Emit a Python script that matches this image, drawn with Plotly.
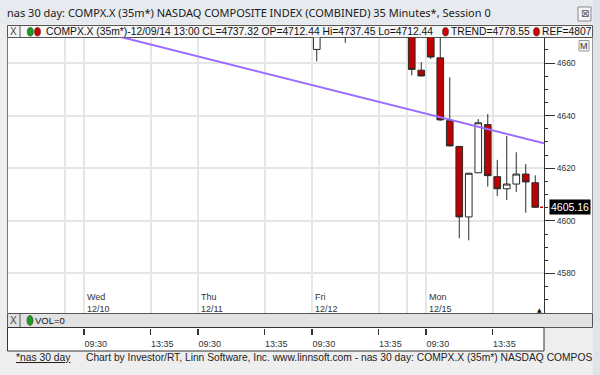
import plotly.graph_objects as go

# ---------------- data ----------------
days = ["12/09", "12/10", "12/11", "12/12", "12/15"]
day_names = ["Tue", "Wed", "Thu", "Fri", "Mon"]
session_times = ["09:30", "10:05", "10:40", "11:15", "11:50", "12:25",
                 "13:00", "13:35", "14:10", "14:45", "15:20", "15:55"]

bar_time = ["12/12 09:30", "12/12 11:15", "12/12 15:20", "12/12 15:55",
            "12/15 09:30", "12/15 10:05", "12/15 10:40", "12/15 11:15",
            "12/15 11:50", "12/15 12:25", "12/15 13:00", "12/15 13:35",
            "12/15 14:10", "12/15 14:45", "12/15 15:20", "12/15 15:55"]
bar_open = [4665.2, 4681.0, 4672.0, 4657.3, 4674.5, 4662.0, 4638.1, 4628.3,
            4601.5, 4618.3, 4636.6, 4616.8, 4612.2, 4614.0, 4617.8, 4614.5]
bar_high = [4683.0, 4686.0, 4675.0, 4660.3, 4676.0, 4673.0, 4654.6, 4628.5,
            4618.3, 4638.7, 4640.6, 4623.2, 4632.3, 4626.1, 4621.6, 4617.3]
bar_low = [4660.7, 4667.7, 4655.3, 4655.0, 4661.6, 4638.0, 4628.3, 4593.4,
           4592.6, 4618.1, 4613.0, 4609.4, 4607.9, 4611.0, 4603.1, 4605.0]
bar_close = [4679.5, 4676.0, 4657.6, 4655.1, 4662.3, 4638.4, 4628.5, 4601.5,
             4618.1, 4637.3, 4617.2, 4612.2, 4614.0, 4617.8, 4614.8, 4605.16]

# purple trend line (bar index, price)
trend_x = [-8.5, 47.92]
trend_y = [4680.7, 4629.5]

grid_times = ["12/09 15:20", "12/10 09:30", "12/10 13:35", "12/11 09:30",
              "12/11 13:35", "12/12 09:30", "12/12 13:35", "12/12 15:20",
              "12/15 09:30", "12/15 13:35"]
axis_tick_times = ["09:30", "13:35"]

y_range = [4565.15, 4669.73]
x_range = [-8.5, 47.92]

legend_text = "COMPX.X (35m*)-12/09/14 13:00 CL=4737.32 OP=4712.44 Hi=4737.45 Lo=4712.44"
title_text = "nas 30 day: COMPX.X (35m*) NASDAQ COMPOSITE INDEX (COMBINED) 35 Minutes*, Session 0"
footer_text = "Chart by Investor/RT, Linn Software, Inc. www.linnsoft.com - nas 30 day: COMPX.X (35m*) NASDAQ COMPOS"


def bar_index(stamp):
    d, t = stamp.split()
    return (days.index(d) - 1) * 12 + session_times.index(t)


xs = [bar_index(s) for s in bar_time]

# ---------------- layout helpers ----------------
W, H = 600, 375
def X(px): return px / W
def Y(py): return 1 - py / H

FONT = "Liberation Sans"
DARK = "#333333"

fig = go.Figure()
fig.add_trace(go.Candlestick(
    x=xs, open=bar_open, high=bar_high, low=bar_low, close=bar_close,
    increasing=dict(fillcolor="white", line=dict(color="#2a2a2a", width=1)),
    decreasing=dict(fillcolor="#c00000", line=dict(color="#2a2a2a", width=1)),
    showlegend=False, hoverinfo="skip", xaxis="x", yaxis="y"))

fig.add_trace(go.Scatter(x=trend_x, y=trend_y, mode="lines",
                         line=dict(color="#9b6cff", width=2),
                         showlegend=False, hoverinfo="skip", xaxis="x", yaxis="y"))

# last price marker
last = bar_close[-1]
fig.add_trace(go.Scatter(x=[x_range[1] + 0.45], y=[last], mode="markers",
                         marker=dict(symbol="triangle-left", color="#d00000", size=7),
                         cliponaxis=False, showlegend=False, hoverinfo="skip",
                         xaxis="x", yaxis="y"))

# grid / labels for price pane x axis
grid_vals = [bar_index(s) - 0.5 for s in grid_times]
day_vals, day_text = [], []
for s in grid_times:
    d, t = s.split()
    if t == "09:30":
        day_vals.append(bar_index(s) - 0.5)
        day_text.append(day_names[days.index(d)] + "<br>" + d)

time_vals, time_text = [], []
for d in days[1:]:
    for t in axis_tick_times:
        time_vals.append(bar_index(d + " " + t) - 0.5)
        time_text.append(t)

shapes = []
def rect(x0, y0, x1, y1, fill, line=None, lw=1, layer="below"):
    shapes.append(dict(type="rect", xref="paper", yref="paper",
                       x0=X(x0), x1=X(x1), y0=Y(y1), y1=Y(y0),
                       fillcolor=fill, line=dict(color=line or "rgba(0,0,0,0)", width=lw if line else 0),
                       layer=layer))
def vline(x, y0, y1, color, lw=1, layer="below"):
    shapes.append(dict(type="line", xref="paper", yref="paper", x0=X(x), x1=X(x),
                       y0=Y(y0), y1=Y(y1), line=dict(color=color, width=lw), layer=layer))
def oval(x0, y0, x1, y1, fill, layer="above"):
    shapes.append(dict(type="circle", xref="paper", yref="paper", x0=X(x0), x1=X(x1),
                       y0=Y(y1), y1=Y(y0), fillcolor=fill, line=dict(color="#333", width=0.6),
                       layer=layer))

# title bar
rect(0, 0, 600, 24, "#e7eaee")
# right border strip
rect(593, 0, 600, 375, "#dfe4ea")
# price pane white incl. axis region
rect(8, 37.5, 592, 313, "white")
# legend bar
rect(7.5, 25.5, 592.5, 37.5, "#f6f6f6", "#555555")
vline(20, 25.5, 37.5, "#555555")
# vol bar
rect(7.5, 313.5, 592.5, 327.5, "#e2e2e2", "#555555")
vline(20, 313.5, 327.5, "#555555")
# volume pane
rect(7.5, 327.5, 544, 351, "white", "#333333")
# frame sides of price pane
vline(7.5, 37.5, 313.5, "#777777")
vline(592.5, 37.5, 313.5, "#999999")
# close button
rect(578, 7, 591, 21, "#f4f4f4", "#8a8a8a")
# "M" button
rect(579, 40.5, 589, 51, "#f4f4f4", "#9a9a9a", layer="above")
# legend dots
oval(27.3, 27.5, 33.3, 36, "#1e9e1e")
oval(34.5, 27.5, 40.5, 36, "#d00000")
oval(442.5, 27.5, 448.5, 36, "#d00000")
oval(533.5, 27.5, 539.5, 36, "#d00000")
oval(27, 315.5, 33, 325.5, "#1e9e1e")
# red dashed stub of last price
shapes.append(dict(type="line", xref="paper", yref="y", x0=X(540), x1=X(546),
                   y0=last, y1=last, line=dict(color="#d00000", width=1.5, dash="dot"),
                   layer="above"))

annotations = []
def text(x, y, s, size=10, color=DARK, family=FONT, anchor="left", **kw):
    annotations.append(dict(x=X(x), y=Y(y), xref="paper", yref="paper", text=s,
                            showarrow=False, xanchor=anchor, yanchor="middle",
                            font=dict(size=size, color=color, family=family), **kw))

text(5, 12.5, title_text, size=11, color="#1a1a1a", family="Noto Sans")
text(584.5, 14, "⊠", size=10, color="#555", family="DejaVu Sans", anchor="center")
text(13.8, 31.5, "X", size=10, color="#444", anchor="center")
text(44, 31.5, legend_text, size=10.3, color="#111")
text(449, 31.5, "TREND=4778.55", size=10.3, color="#111")
text(540, 31.5, "REF=4807", size=10.3, color="#111")
text(584, 45.8, "M", size=9, color="#333", anchor="center")
text(13.8, 320.5, "X", size=10, color="#444", anchor="center")
text(33, 320.5, "VOL=0", size=9.5, color="#111")
text(14, 357.5, "<u>*nas 30 day</u>", size=10.3, color="#222")
text(84, 357.5, footer_text, size=10.25, color="#222")
text(539.5, 309.5, "▲", size=6, color="#111", family="DejaVu Sans", anchor="center")
for v, s in zip(day_vals, day_text):
    annotations.append(dict(x=v, y=Y(303), xref="x", yref="paper", text=s,
                            showarrow=False, xanchor="left", yanchor="middle", align="left",
                            xshift=1, font=dict(size=9, color=DARK, family=FONT)))
annotations.append(dict(x=X(570), y=last, xref="paper", yref="y", text="4605.16",
                        showarrow=False, xanchor="center", yanchor="middle",
                        bgcolor="black", borderpad=1,
                        font=dict(size=10.5, color="white", family=FONT)))

fig.update_layout(
    width=W, height=H, autosize=False,
    margin=dict(l=0, r=0, t=0, b=0),
    paper_bgcolor="#eeeeee", plot_bgcolor="rgba(0,0,0,0)",
    boxgap=0.3, boxgroupgap=0,
    shapes=shapes, annotations=annotations,
    showlegend=False,
    xaxis=dict(domain=[X(8), X(544)], range=x_range, anchor="y",
               tickvals=grid_vals, showticklabels=False, ticks="",
               showgrid=True, gridcolor="#e6e6e6", gridwidth=2,
               zeroline=False, showline=False,
               rangeslider=dict(visible=False), fixedrange=True),
    yaxis=dict(domain=[Y(312.5), Y(37.5)], range=y_range, anchor="x", side="right",
               dtick=20, tick0=4560, ticks="outside", ticklen=10, tickwidth=1,
               tickcolor=DARK, tickfont=dict(size=8.5, color=DARK, family=FONT),
               showline=True, linecolor=DARK, linewidth=1,
               showgrid=True, gridcolor="#e6e6e6", gridwidth=2, zeroline=False,
               minor=dict(dtick=5, tick0=4560, ticks="outside", ticklen=3,
                          tickcolor=DARK, showgrid=False)),
    xaxis2=dict(domain=[X(8), X(544)], range=x_range, anchor="free", position=Y(327.5),
                side="bottom", tickvals=time_vals, ticktext=time_text,
                ticks="outside", ticklen=6, tickcolor=DARK, tickwidth=1.2,
                ticklabelposition="outside right", ticklabelstandoff=8,
                tickfont=dict(size=9, color=DARK, family=FONT),
                showgrid=False, zeroline=False, showline=False),
    yaxis2=dict(domain=[Y(351), Y(327.5)], range=[0, 1], anchor="x2",
                visible=False),
)
# dummy trace to activate the volume pane axes
fig.add_trace(go.Scatter(x=[], y=[], xaxis="x2", yaxis="y2", showlegend=False))

fig.write_html("out.html", config={"displayModeBar": False, "staticPlot": True},
               post_script="document.body.style.margin='0';document.body.style.overflow='hidden';")
